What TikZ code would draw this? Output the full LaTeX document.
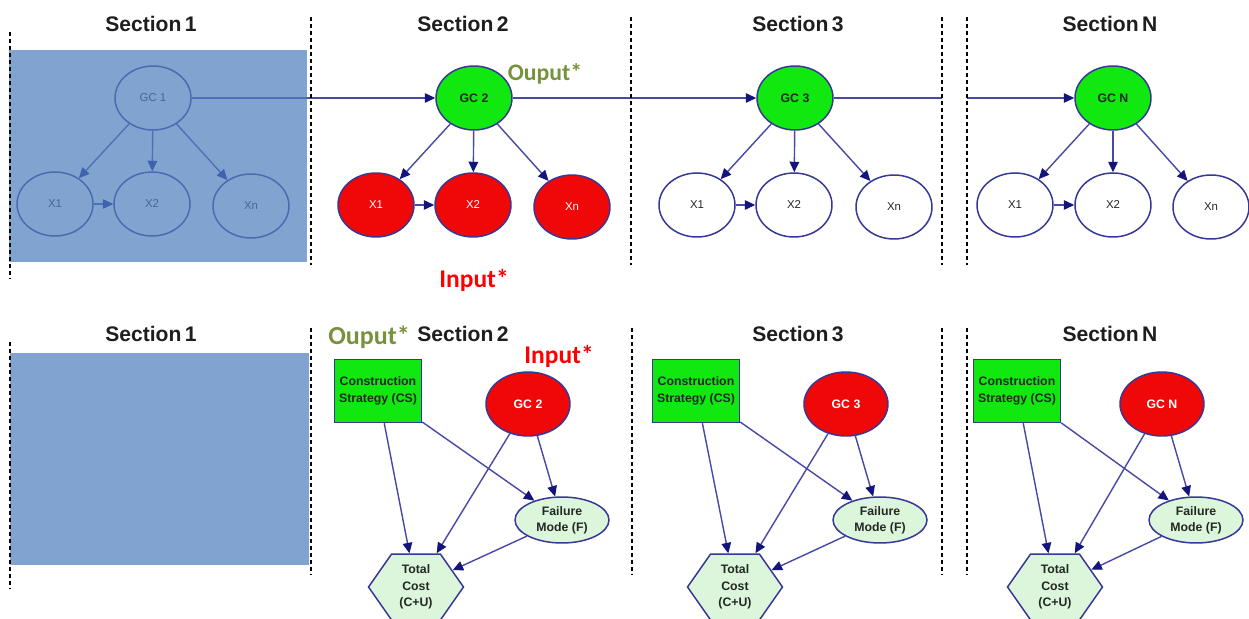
\documentclass[tikz,border=0pt]{standalone}
\usepackage{fontspec}
\setmainfont{Liberation Sans}
\newfontfamily\calib{Carlito}
\usetikzlibrary{shapes.geometric,shapes.symbols,arrows.meta}

\definecolor{edgeblue}{RGB}{72,72,165}
\definecolor{tipblue}{RGB}{20,20,125}
\definecolor{nodeline}{RGB}{55,55,150}
\definecolor{gcgreen}{RGB}{16,232,16}
\definecolor{gcred}{RGB}{240,8,8}
\definecolor{paleg}{RGB}{220,246,220}
\definecolor{outgreen}{RGB}{118,146,60}
\definecolor{inred}{RGB}{255,0,0}
\definecolor{veil}{RGB}{79,129,189}
\definecolor{titlegray}{RGB}{30,30,30}
\definecolor{labeldark}{RGB}{35,40,35}

\tikzset{
  sectitle/.style={font=\bfseries\fontsize{12}{14}\selectfont, text=titlegray, inner sep=0pt},
  var/.style={ellipse, draw=nodeline, line width=0.85pt, fill=white,
    minimum width=1.52cm, minimum height=1.28cm, inner sep=0pt,
    font=\fontsize{6.5}{8}\selectfont, text=labeldark},
  gcnode/.style={var, fill=gcgreen, font=\bfseries\fontsize{7}{8}\selectfont},
  rednode/.style={var, fill=gcred, text=white},
  link/.style={draw=edgeblue, line width=0.8pt,
    -{Triangle[length=2.1mm,width=1.9mm,color=tipblue]}},
  wire/.style={draw=edgeblue, line width=0.8pt},
  divider/.style={black, line width=0.7pt, dash pattern=on 2.3pt off 1.7pt},
  veilbox/.style={fill=veil, fill opacity=0.72},
  strategy/.style={rectangle, draw=nodeline, line width=0.85pt, fill=gcgreen,
    minimum width=1.74cm, minimum height=1.26cm, inner sep=0pt, align=center,
    font=\bfseries\fontsize{7}{9.5}\selectfont, text=labeldark},
  gcinput/.style={ellipse, draw=nodeline, line width=0.85pt, fill=gcred,
    minimum width=1.68cm, minimum height=1.28cm, inner sep=0pt,
    font=\bfseries\fontsize{7}{8}\selectfont, text=white},
  failure/.style={ellipse, draw=nodeline, line width=0.85pt, fill=paleg,
    minimum width=1.88cm, minimum height=0.92cm, inner sep=0pt, align=center,
    font=\bfseries\fontsize{7}{9}\selectfont, text=labeldark},
  cost/.style={signal, signal to=west and east, signal pointer angle=110,
    draw=nodeline, line width=0.85pt, fill=paleg,
    minimum width=1.9cm, minimum height=1.32cm, inner sep=1pt, align=center,
    font=\bfseries\fontsize{7}{9.5}\selectfont, text=labeldark},
  outtag/.style={font=\calib\bfseries\fontsize{#1}{16}\selectfont, text=outgreen, inner sep=0pt, anchor=base},
  intag/.style={font=\calib\bfseries\fontsize{#1}{16}\selectfont, text=inred, inner sep=0pt, anchor=base},
}

\begin{document}
\begin{tikzpicture}[x=0.02cm, y=-0.02cm]
\useasboundingbox (0,0) rectangle (1249,619);
\fill[white] (0,0) rectangle (1249,619);

% ---------- section titles ----------
\foreach \x/\t in {151/1, 463/2, 798/3, 1110/N} {
  \node[sectitle, anchor=base] (top\t) at (\x,31) {Section\,\t};
  \node[sectitle, anchor=base] (bot\t) at (\x,341) {Section\,\t};
}

% ---------- upper row: GC chain with indicator nodes ----------
% section 1
\node[var] (gc1) at (153,98) {GC 1};
\node[var] (a1) at (55,204) {X1};
\node[var] (a2) at (152,204) {X2};
\node[var] (an) at (251,206) {Xn};
% section 2
\node[gcnode] (gc2) at (474,98) {GC 2};
\node[rednode] (b1) at (376,205) {X1};
\node[rednode] (b2) at (473,205) {X2};
\node[rednode] (bn) at (572,207) {Xn};
% section 3
\node[gcnode] (gc3) at (795,98) {GC 3};
\node[var] (c1) at (697,205) {X1};
\node[var] (c2) at (794,205) {X2};
\node[var] (cn) at (894,207) {Xn};
% section N
\node[gcnode] (gcN) at (1113,98) {GC N};
\node[var] (d1) at (1015,205) {X1};
\node[var] (d2) at (1113,205) {X2};
\node[var] (dn) at (1211,207) {Xn};

\coordinate (cut3) at (942,98);
\coordinate (cutN) at (967,98);

\foreach \g/\p in {gc1/a, gc2/b, gc3/c, gcN/d} {
  \draw[link] (\g) -- (\p1);
  \draw[link] (\g) -- (\p2);
  \draw[link] (\g) -- (\p n);
  \draw[link] (\p1) -- (\p2);
}
\draw[link] (gc1) -- (gc2);
\draw[link] (gc2) -- (gc3);
\draw[wire] (gc3) -- (cut3);
\draw[link] (cutN) -- (gcN);

% shaded first section
\fill[veilbox] (9,50) rectangle (307,262);

\node[outtag=13.5] (out1) at (545,80) {Ouput*};
\node[intag=14.5] (in1) at (474,287) {Input*};

% ---------- lower row: decision networks ----------
\fill[veilbox] (10,353) rectangle (309,565);

\foreach \s/\cx/\gx/\fx/\tx in {2/378/528/562/416, 3/696/846/880/735, N/1017/1162/1196/1055} {
  \node[strategy] (cs\s) at (\cx,391) {Construction\\Strategy (CS)};
  \node[gcinput] (g\s) at (\gx,404) {GC \s};
  \node[failure] (f\s) at (\fx,520) {Failure\\Mode (F)};
  \node[cost] (t\s) at (\tx,587) {Total\\Cost\\(C+U)};
  \draw[link] (cs\s) -- (t\s);
  \draw[link] (cs\s) -- (f\s);
  \draw[link] (g\s) -- (t\s);
  \draw[link] (g\s) -- (f\s);
  \draw[link] (f\s) -- (t\s);
}

\node[outtag=14.8] (out2) at (369,344) {Ouput*};
\node[intag=14.5] (in2) at (559,363) {Input*};

% ---------- section dividers ----------
\draw[divider] (10,32) -- (10,278);
\foreach \x in {311, 631, 942, 967}
  \draw[divider] (\x,17) -- (\x,265);
\draw[divider] (10,342) -- (10,588);
\foreach \x in {311, 632, 942, 967}
  \draw[divider] (\x,328) -- (\x,575);
\end{tikzpicture}
\end{document}
